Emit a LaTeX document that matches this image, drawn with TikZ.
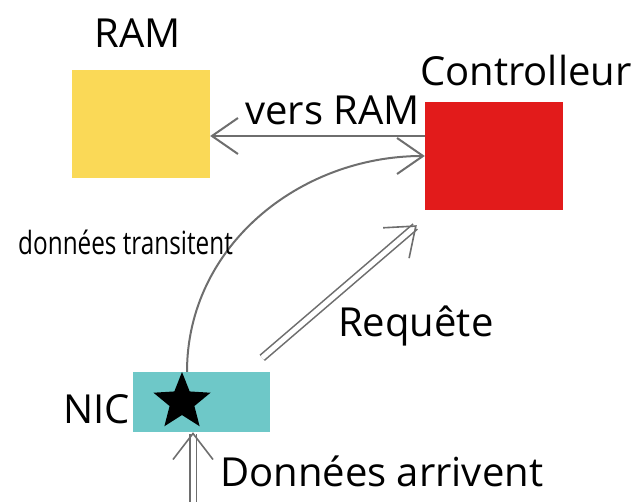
\documentclass[tikz,border=0pt]{standalone}
\usepackage{fontspec}
\setmainfont{Open Sans}
\usetikzlibrary{shapes.geometric,arrows.meta,positioning}
\definecolor{ramcol}{HTML}{FAD957}
\definecolor{ctrlcol}{HTML}{E21B1B}
\definecolor{niccol}{HTML}{6EC8C8}
\definecolor{wirecol}{HTML}{6E6E6E}
\begin{document}
\begin{tikzpicture}[x=1pt,y=1pt,
    box/.style={draw=none,minimum width=138pt,minimum height=108pt,inner sep=0pt},
    lbl/.style={font=\fontsize{40}{44}\selectfont,inner sep=0pt},
    arr/.style={draw=wirecol,line width=2pt,-{Straight Barb[length=26pt,width=36pt]}},
    dbl/.style={draw=wirecol,line width=1.6pt,double,double distance=5pt,-{Straight Barb[length=26pt,width=40pt,line width=1.6pt 0 0]}}]
            \useasboundingbox (0,0) rectangle (639,502);
            \node[box,fill=ramcol] (ram) at (141,378) {};
            \node[box,fill=ctrlcol] (ctrl) at (494,346) {};
            \node[box,fill=niccol,minimum width=137pt,minimum height=60pt] (nic) at (201.5,100) {};
            \node[star,star points=5,star point ratio=2.3,fill=black,minimum size=60pt,inner sep=0pt] (etoile) at (182,100) {};
            \coordinate (src) at (193,0);
            \node[lbl,anchor=base] (ramtxt) at (138,454) {RAM};
            \node[lbl,anchor=base west] (ctrltxt) at (420,416) {Controlleur};
            \node[lbl,anchor=base east] (nictxt) at (130,78) {NIC};
            \draw[arr] ([yshift=20pt]ctrl.west) -- ([yshift=-12pt]ram.east)
                node[lbl,anchor=base,pos=0.43,yshift=11pt] (verstxt) {vers RAM};
            \draw[arr] ([xshift=-14.5pt]nic.north) to[out=90,in=180] (ctrl.west);
            \node[anchor=base east,inner sep=0pt,font=\fontsize{32}{34}\selectfont,xscale=0.76] (transtxt) at (233,247) {données transitent};
            \draw[dbl] ([xshift=-8pt,yshift=14pt]nic.north east) -- ([xshift=-8pt,yshift=-15pt]ctrl.south west);
            \node[lbl,anchor=base west] (reqtxt) at (338,165) {Requête};
            \draw[dbl] (src) -- (src |- nic.south);
            \node[lbl,anchor=base west] (arrtxt) at (220,15) {Données arrivent};
        \end{tikzpicture}
\end{document}
